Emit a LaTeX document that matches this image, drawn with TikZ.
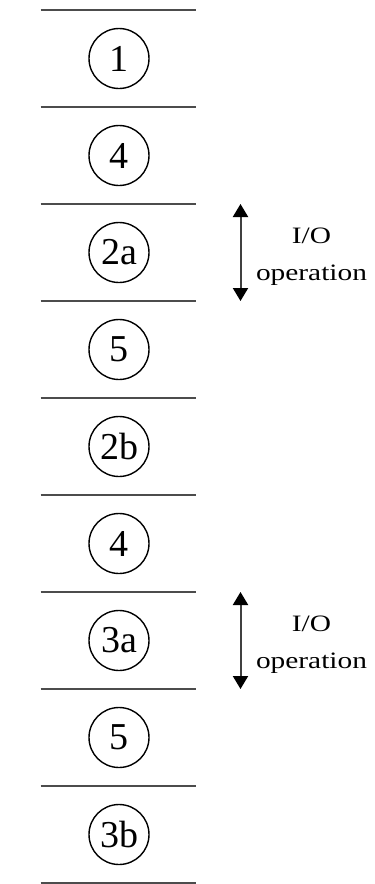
\documentclass[tikz,border=0pt]{standalone}
\usepackage{fontspec}
\setmainfont{Liberation Serif}
\newfontfamily\widefont[FakeStretch=1.25]{Liberation Serif}
\usetikzlibrary{arrows.meta}
\tikzset{
  sepline/.style={draw=black!70, line width=2pt},
  phase/.style={circle, draw=black, line width=1.4pt, minimum size=60pt, inner sep=0pt,
    font=\fontsize{38}{40}\selectfont},
  ioarrow/.style={draw=black!75, line width=2pt, {Triangle[width=15pt,length=13pt,color=black]}-{Triangle[width=15pt,length=13pt,color=black]}},
  iolabel/.style={align=center, inner sep=0pt, font=\widefont\fontsize{23.5}{36.7}\selectfont}
}
\begin{document}
\begin{tikzpicture}[x=1pt,y=-1pt]
\useasboundingbox (0,0) rectangle (375,884);
% separator coordinates
\foreach \i in {0,...,9}{
  \coordinate (L\i) at (40.7,{10+97.0*\i});
  \coordinate (R\i) at (196.3,{10+97.0*\i});
  \coordinate (A\i) at (240.5,{10+97.0*\i});
}
\foreach \i in {0,...,9}{
  \draw[sepline] (L\i) -- (R\i);
}
% phases
\node[phase] (p1) at (119,58.5) {1};
\node[phase] (p2) at (119,155.5) {4};
\node[phase] (p3) at (119,252.5) {2a};
\node[phase] (p4) at (119,349.5) {5};
\node[phase] (p5) at (119,446.5) {2b};
\node[phase] (p6) at (119,543.5) {4};
\node[phase] (p7) at (119,640.5) {3a};
\node[phase] (p8) at (119,737.5) {5};
\node[phase] (p9) at (119,834.5) {3b};
% I/O arrows
\draw[ioarrow] (A2) -- (A3);
\draw[ioarrow] (A6) -- (A7);
\node[iolabel] (io1) at (311.5,257) {I/O\\operation};
\node[iolabel] (io2) at (311.5,645) {I/O\\operation};
\end{tikzpicture}
\end{document}
